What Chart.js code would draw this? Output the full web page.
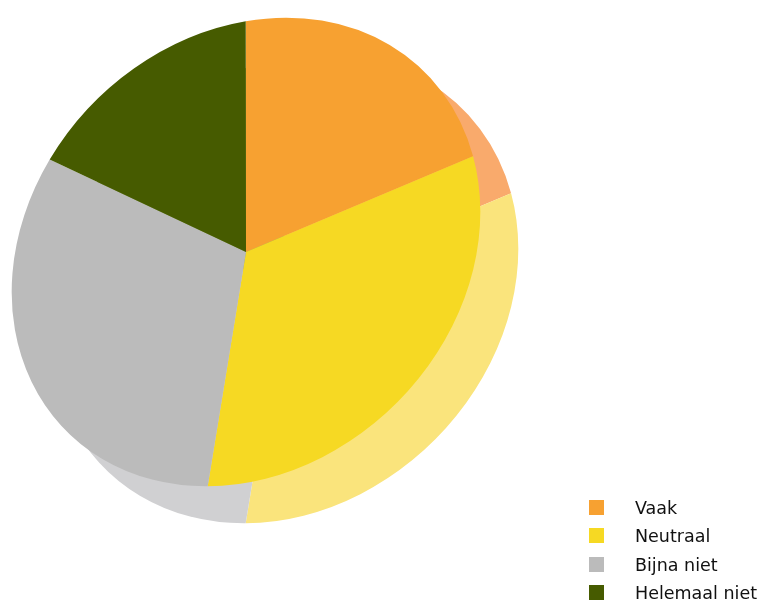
<!DOCTYPE html>
<html>
<head>
<meta charset="utf-8">
<script src="https://cdn.jsdelivr.net/npm/chart.js@4"></script>
<style>
  html, body { margin: 0; padding: 0; background: #fff; }
  #wrap { position: relative; width: 761px; height: 601px; overflow: hidden; }
  #wrap canvas { position: absolute; left: 0; top: 0; }
  #legend { position: absolute; left: 589px; top: 500px; margin: 0; padding: 0; list-style: none;
            font-family: "DejaVu Sans", sans-serif; font-size: 17.5px; color: #111; }
  #legend li { position: relative; height: 28.3px; padding-left: 46px; line-height: 17px; white-space: nowrap; }
  #legend span { position: absolute; left: 0; top: 0; width: 15px; height: 15px; }
</style>
</head>
<body>
<div id="wrap">
  <canvas id="shadowChart" width="761" height="601"></canvas>
  <canvas id="pieChart" width="761" height="601"></canvas>
  <ul id="legend"></ul>
</div>
<script>
// number of answers per option
const labels = ["Vaak", "Neutraal", "Bijna niet", "Helemaal niet"];
const values = [4, 6, 6, 3];
const colors = ["#f7a131", "#f6d923", "#bbbbbb", "#465b00"];
const sideColors = ["#f9aa6c", "#fae47c", "#d0d0d2", "#9aa866"];

// the pie is seen at a slant: stretch along the NE-SW diagonal, squash along NW-SE
const stretch = 258 / 235, squash = 217 / 235;
const tilt = {
    id: "tilt",
    beforeDatasetsDraw(chart) {
        const area = chart.chartArea;
        const cx = (area.left + area.right) / 2;
        const cy = (area.top + area.bottom) / 2;
        const p = (stretch + squash) / 2, q = (squash - stretch) / 2;
        const ctx = chart.ctx;
        ctx.save();
        ctx.translate(cx, cy);
        ctx.transform(p, q, q, p, 0, 0);
        ctx.translate(-cx, -cy);
    },
    afterDatasetsDraw(chart) {
        chart.ctx.restore();
    }
};

function makePie(id, fill, padding) {
    const ctx = document.getElementById(id).getContext("2d");
    return new Chart(ctx, {
        type: "pie",
        data: {
            labels: labels,
            datasets: [{
                data: values,
                backgroundColor: fill,
                borderWidth: 0
            }]
        },
        options: {
            responsive: false,
            animation: false,
            rotation: -5,
            layout: { padding: padding },
            plugins: {
                legend: { display: false },
                tooltip: { enabled: false }
            }
        },
        plugins: [tilt]
    });
}

// side of the disc: a lighter copy behind, shifted right and down
makePie("shadowChart", sideColors, { left: 53, top: 58, right: 246, bottom: 81 });
makePie("pieChart", colors, { left: 15, top: 21, right: 284, bottom: 118 });

// legend
const legend = document.getElementById("legend");
labels.forEach((label, i) => {
    const li = document.createElement("li");
    li.innerHTML = `<span style="background:${colors[i]}"></span>${label}`;
    legend.appendChild(li);
});
</script>
</body>
</html>
